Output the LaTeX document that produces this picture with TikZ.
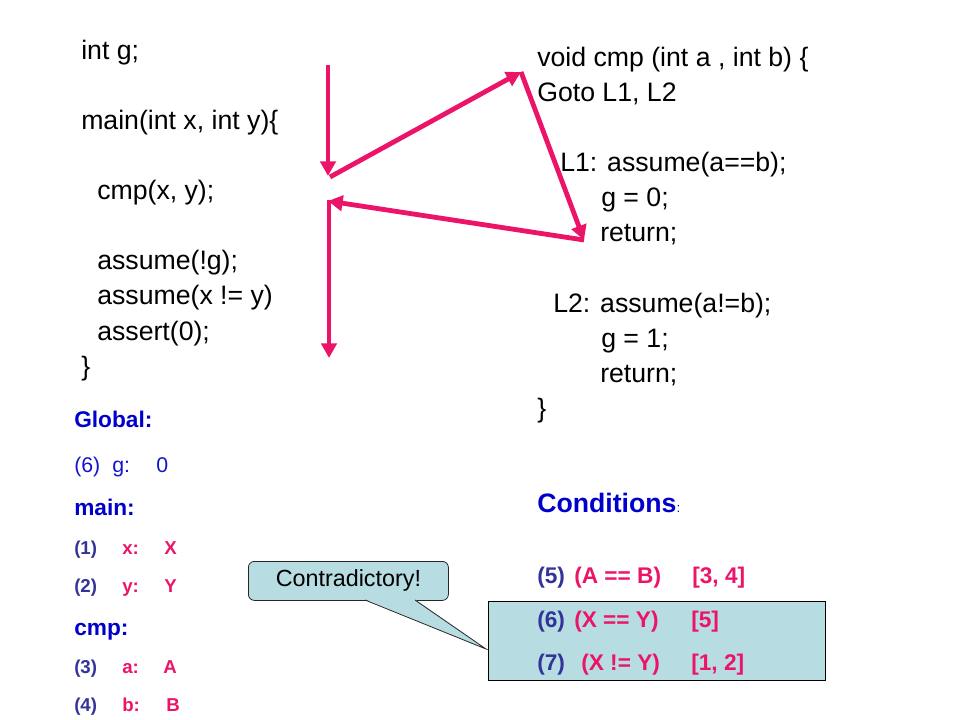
\documentclass[tikz,border=0pt]{standalone}
\usepackage{fontspec}
\setmainfont{Liberation Sans}
\usetikzlibrary{arrows.meta}
\definecolor{pinkr}{RGB}{236,20,104}
\definecolor{headblue}{RGB}{0,0,204}
\definecolor{lightblue}{RGB}{20,20,200}
\definecolor{navy}{RGB}{51,51,153}
\definecolor{boxfill}{RGB}{183,221,226}
\begin{document}
\begin{tikzpicture}[x=0.75pt,y=-0.75pt,
  txt/.style={anchor=base west, inner sep=0pt},
  code/.style={txt, font=\fontsize{20}{24}\selectfont},
  head/.style={txt, text=headblue, font=\fontsize{17}{20}\selectfont\bfseries},
  numsm/.style={txt, text=navy, font=\fontsize{14}{17}\selectfont\bfseries},
  valsm/.style={txt, text=pinkr, font=\fontsize{14}{17}\selectfont\bfseries},
  numc/.style={txt, text=navy, font=\fontsize{17}{20}\selectfont\bfseries},
  valc/.style={txt, text=pinkr, font=\fontsize{17}{20}\selectfont\bfseries},
  gval/.style={txt, text=lightblue, font=\fontsize{16}{19}\selectfont},
  flow/.style={draw=pinkr, line width=3.6pt, -{Triangle[length=11pt,width=11.5pt]}}]
\useasboundingbox (0,0) rectangle (960,720);

% left code
\node[code] (l1) at (81,60) {int g;};
\node[code] (l2) at (81,130) {main(int x, int y)\{};
\node[code] (l3) at (97,200) {cmp(x, y);};
\node[code] (l4) at (97,270) {assume(!g);};
\node[code] (l5) at (97,305) {assume(x != y)};
\node[code] (l6) at (97,340) {assert(0);};
\node[code] (l7) at (81,375) {\}};

% right code
\node[code] (r1) at (537,67) {void cmp (int a , int b) \{};
\node[code] (r2) at (537,102) {Goto L1, L2};
\node[code] (r3) at (560,172) {L1: assume(a==b);};
\node[code] (r4) at (601,207) {g = 0;};
\node[code] (r5) at (600,242) {return;};
\node[code] (r6) at (553,312) {L2: assume(a!=b);};
\node[code] (r7) at (601,347) {g = 1;};
\node[code] (r8) at (600,382) {return;};
\node[code] (r9) at (537,417) {\}};

% flow arrows
\coordinate (a1s) at (328,65);
\coordinate (a1e) at (328,176);
\coordinate (a2s) at (330,177);
\coordinate (top) at (521,72);
\coordinate (lret) at (584,240);
\coordinate (back) at (328,201);
\coordinate (a5s) at (329,200);
\coordinate (a5e) at (329,358);
\draw[flow] (a1s) -- (a1e);
\draw[flow] (a2s) -- (top);
\draw[flow] (top) -- (lret);
\draw[flow] (lret) -- (back);
\draw[flow] (a5s) -- (a5e);

% globals
\node[head] (glob) at (74,427) {Global:};
\node[gval] (g6n) at (74,472) {(6)};
\node[gval] (g6v) at (112,472) {g:};
\node[gval] (g6z) at (156,472) {0};
\node[head] (mainh) at (74,515) {main:};
\node[numsm] (n1) at (74,554) {(1)};
\node[valsm] (v1) at (122,554) {x:};
\node[valsm] (w1) at (164,554) {X};
\node[numsm] (n2) at (74,592) {(2)};
\node[valsm] (v2) at (122,592) {y:};
\node[valsm] (w2) at (164,592) {Y};
\node[head] (cmph) at (74,635) {cmp:};
\node[numsm] (n3) at (74,673) {(3)};
\node[valsm] (v3) at (122,673) {a:};
\node[valsm] (w3) at (163,673) {A};
\node[numsm] (n4) at (74,711) {(4)};
\node[valsm] (v4) at (122,711) {b:};
\node[valsm] (w4) at (166,711) {B};

% conditions box
\node[draw=black, line width=0.6pt, fill=boxfill, anchor=north west, inner sep=0pt,
      minimum width=252.75pt, minimum height=59.25pt] (condbox) at (488,601) {};
\node[txt, text=headblue, font=\fontsize{20}{24}\selectfont\bfseries] (condh) at (537,512)
  {Conditions{\fontsize{10}{12}\selectfont\mdseries :}};
\node[numc] (c5n) at (537,583) {(5)};
\node[valc] (c5a) at (574,583) {(A == B)};
\node[valc] (c5b) at (692,583) {[3, 4]};
\node[numc] (c6n) at (537,627) {(6)};
\node[valc] (c6a) at (574,627) {(X == Y)};
\node[valc] (c6b) at (691,627) {[5]};
\node[numc] (c7n) at (537,670) {(7)};
\node[valc] (c7a) at (581,670) {(X != Y)};
\node[valc] (c7b) at (691,670) {[1, 2]};

% callout
\node[draw=black!85, line width=0.6pt, fill=boxfill, rounded corners=4.5pt, anchor=north west,
      minimum width=150pt, minimum height=29.25pt, inner sep=0pt,
      font=\fontsize{17.5}{21}\selectfont] (callout) at (248,561) {Contradictory!};
\coordinate (tip) at (486,649);
\fill[boxfill] (365,599.4) -- (tip) -- (415,599.4) -- cycle;
\draw[black!85, line width=0.6pt] (365,600) -- (tip) -- (415,600);
\end{tikzpicture}
\end{document}
